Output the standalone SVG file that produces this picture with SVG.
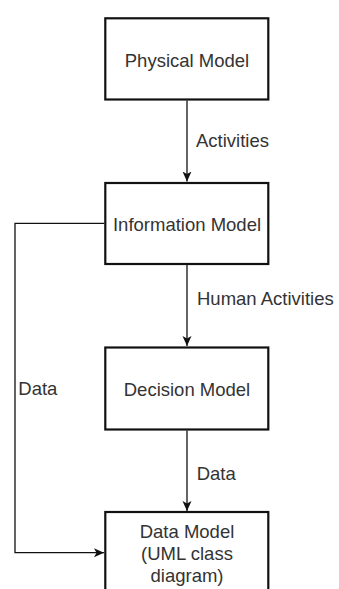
<svg xmlns="http://www.w3.org/2000/svg" width="339" height="589" viewBox="0 0 339 589">
<style>
.box{fill:#fff;stroke:#111;stroke-width:2.2}
.t{font-family:"Liberation Sans",Arial,sans-serif;font-size:18.5px;fill:#333}
.m{text-anchor:middle}
.c{fill:none;stroke:#111;stroke-width:1.3}
</style>
<defs>
<marker id="ah" markerUnits="userSpaceOnUse" viewBox="0 0 10 10" refX="10" refY="5" markerWidth="10" markerHeight="10" orient="auto">
<path d="M0,0.5 L10,5 L0,9.5 L2.5,5 Z" fill="#111"/>
</marker>
</defs>
<rect width="339" height="589" fill="#fff"/>
<g id="connectors">
<path class="c" d="M187,100.5 V181.5" marker-end="url(#ah)"/>
<path class="c" d="M187,264.5 V346" marker-end="url(#ah)"/>
<path class="c" d="M187,430.5 V511" marker-end="url(#ah)"/>
<path class="c" d="M104.3,223.3 H15 V552.7 H104" marker-end="url(#ah)"/>
<text class="t" x="196" y="147.3">Activities</text>
<text class="t" x="197" y="305">Human Activities</text>
<text class="t" x="196.7" y="480">Data</text>
<text class="t" x="18.3" y="395">Data</text>
</g>
<g id="physical">
<rect class="box" x="105.3" y="18.3" width="163" height="81.2"/>
<text class="t m" x="187" y="66.5">Physical Model</text>
</g>
<g id="information">
<rect class="box" x="105.3" y="183" width="163" height="81"/>
<text class="t m" x="187" y="230.5">Information Model</text>
</g>
<g id="decision">
<rect class="box" x="105.3" y="347.5" width="163" height="82"/>
<text class="t m" x="187" y="396">Decision Model</text>
</g>
<g id="data">
<rect class="box" x="105.3" y="512" width="163" height="82"/>
<text class="t m" x="187" y="538.3">Data Model</text>
<text class="t m" x="187" y="560">(UML class</text>
<text class="t m" x="187" y="581.7">diagram)</text>
</g>
</svg>
